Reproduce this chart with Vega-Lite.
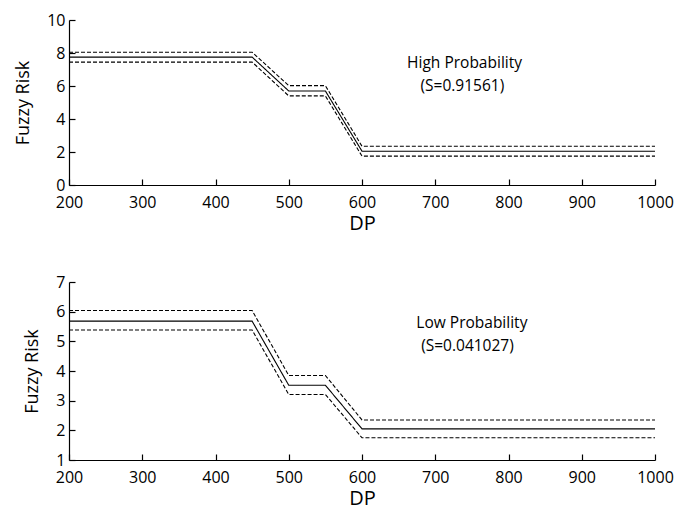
{
  "$schema": "https://vega.github.io/schema/vega-lite/v6.json",
  "padding": {"left": 14, "top": 12, "right": 5, "bottom": 0},
  "background": "white",
  "datasets": {
    "lines": [
      {"panel": "high", "series": "upper", "DP": 200, "risk": 8.05},
      {"panel": "high", "series": "upper", "DP": 450, "risk": 8.05},
      {"panel": "high", "series": "upper", "DP": 500, "risk": 6.02},
      {"panel": "high", "series": "upper", "DP": 550, "risk": 6.02},
      {"panel": "high", "series": "upper", "DP": 600, "risk": 2.35},
      {"panel": "high", "series": "upper", "DP": 1000, "risk": 2.35},
      {"panel": "high", "series": "mid", "DP": 200, "risk": 7.75},
      {"panel": "high", "series": "mid", "DP": 450, "risk": 7.75},
      {"panel": "high", "series": "mid", "DP": 500, "risk": 5.7},
      {"panel": "high", "series": "mid", "DP": 550, "risk": 5.7},
      {"panel": "high", "series": "mid", "DP": 600, "risk": 2.05},
      {"panel": "high", "series": "mid", "DP": 1000, "risk": 2.05},
      {"panel": "high", "series": "lower", "DP": 200, "risk": 7.45},
      {"panel": "high", "series": "lower", "DP": 450, "risk": 7.45},
      {"panel": "high", "series": "lower", "DP": 500, "risk": 5.4},
      {"panel": "high", "series": "lower", "DP": 550, "risk": 5.4},
      {"panel": "high", "series": "lower", "DP": 600, "risk": 1.75},
      {"panel": "high", "series": "lower", "DP": 1000, "risk": 1.75},
      {"panel": "low", "series": "upper", "DP": 200, "risk": 6.04},
      {"panel": "low", "series": "upper", "DP": 450, "risk": 6.04},
      {"panel": "low", "series": "upper", "DP": 500, "risk": 3.85},
      {"panel": "low", "series": "upper", "DP": 550, "risk": 3.85},
      {"panel": "low", "series": "upper", "DP": 600, "risk": 2.35},
      {"panel": "low", "series": "upper", "DP": 1000, "risk": 2.35},
      {"panel": "low", "series": "mid", "DP": 200, "risk": 5.68},
      {"panel": "low", "series": "mid", "DP": 450, "risk": 5.68},
      {"panel": "low", "series": "mid", "DP": 500, "risk": 3.52},
      {"panel": "low", "series": "mid", "DP": 550, "risk": 3.52},
      {"panel": "low", "series": "mid", "DP": 600, "risk": 2.05},
      {"panel": "low", "series": "mid", "DP": 1000, "risk": 2.05},
      {"panel": "low", "series": "lower", "DP": 200, "risk": 5.38},
      {"panel": "low", "series": "lower", "DP": 450, "risk": 5.38},
      {"panel": "low", "series": "lower", "DP": 500, "risk": 3.21},
      {"panel": "low", "series": "lower", "DP": 550, "risk": 3.21},
      {"panel": "low", "series": "lower", "DP": 600, "risk": 1.75},
      {"panel": "low", "series": "lower", "DP": 1000, "risk": 1.75}
    ],
    "notes": [
      {"panel": "high", "DP": 740, "risk": 7.4, "label": "High Probability"},
      {"panel": "high", "DP": 737, "risk": 6.0, "label": "(S=0.91561)"},
      {"panel": "low", "DP": 750, "risk": 5.61, "label": "Low Probability"},
      {"panel": "low", "DP": 744, "risk": 4.84, "label": "(S=0.041027)"}
    ]
  },
  "spacing": 41,
  "vconcat": [
    {
      "width": 586,
      "height": 165,
      "encoding": {
        "x": {"field": "DP", "type": "quantitative", "scale": {"domain": [200, 1000], "nice": false, "zero": false},
              "axis": {"title": "DP", "values": [200, 300, 400, 500, 600, 700, 800, 900, 1000]}},
        "y": {"field": "risk", "type": "quantitative", "scale": {"domain": [0, 10], "nice": false},
              "axis": {"title": "Fuzzy Risk", "values": [0, 2, 4, 6, 8, 10]}}
      },
      "layer": [
        {
          "data": {"name": "lines"},
          "transform": [{"filter": "datum.panel === 'high'"}],
          "mark": {"type": "line", "color": "black", "strokeWidth": 1.1},
          "encoding": {
            "detail": {"field": "series"},
            "strokeDash": {"field": "series", "type": "nominal", "scale": {"domain": ["upper", "mid", "lower"], "range": [[4, 2], [1, 0], [4, 2]]}, "legend": null}
          }
        },
        {
          "data": {"name": "notes"},
          "transform": [{"filter": "datum.panel === 'high'"}],
          "mark": {"type": "text", "align": "center", "baseline": "middle", "font": "Open Sans", "fontSize": 15.5, "color": "black"},
          "encoding": {
            "text": {"field": "label"}
          }
        }
      ]
    },
    {
      "width": 586,
      "height": 178,
      "encoding": {
        "x": {"field": "DP", "type": "quantitative", "scale": {"domain": [200, 1000], "nice": false, "zero": false},
              "axis": {"title": "DP", "values": [200, 300, 400, 500, 600, 700, 800, 900, 1000]}},
        "y": {"field": "risk", "type": "quantitative", "scale": {"domain": [1, 7], "nice": false, "zero": false},
              "axis": {"title": "Fuzzy Risk", "values": [1, 2, 3, 4, 5, 6, 7]}}
      },
      "layer": [
        {
          "data": {"name": "lines"},
          "transform": [{"filter": "datum.panel === 'low'"}],
          "mark": {"type": "line", "color": "black", "strokeWidth": 1.1},
          "encoding": {
            "detail": {"field": "series"},
            "strokeDash": {"field": "series", "type": "nominal", "scale": {"domain": ["upper", "mid", "lower"], "range": [[4, 2], [1, 0], [4, 2]]}, "legend": null}
          }
        },
        {
          "data": {"name": "notes"},
          "transform": [{"filter": "datum.panel === 'low'"}],
          "mark": {"type": "text", "align": "center", "baseline": "middle", "font": "Open Sans", "fontSize": 15.5, "color": "black"},
          "encoding": {
            "text": {"field": "label"}
          }
        }
      ]
    }
  ],
  "config": {
    "view": {"stroke": null},
    "axis": {
      "grid": false,
      "domainColor": "black",
      "domainWidth": 1.2,
      "tickColor": "black",
      "tickSize": -6,
      "tickWidth": 1.2,
      "labelOverlap": false,
      "labelFlush": false,
      "labelColor": "black",
      "labelFont": "Open Sans",
      "labelFontSize": 16,
      "format": "d",
      "titleColor": "black",
      "titleFont": "Open Sans",
      "titleFontSize": 18,
      "titleFontWeight": "normal"
    },
    "axisX": {"labelPadding": 15, "titlePadding": 3, "titleFontSize": 20},
    "axisY": {"labelPadding": 10, "titlePadding": 14}
  }
}
